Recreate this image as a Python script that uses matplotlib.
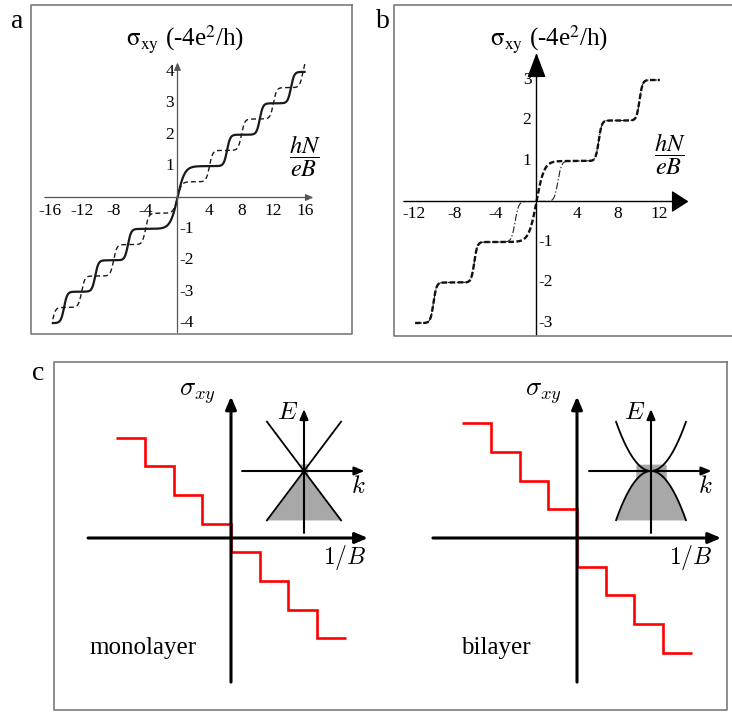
import numpy as np
import matplotlib.pyplot as plt
from matplotlib.lines import Line2D

W, H = 732, 712
plt.rcParams['font.family'] = ['Liberation Serif', 'DejaVu Serif']
plt.rcParams['lines.scale_dashes'] = False

# panel a: plateau levels and positions of the steps between them
a_solid_levels = [-4, -3, -2, -1, 1, 2, 3, 4]
a_solid_steps = [-14.2, -10.3, -6.2, 0.0, 6.2, 10.3, 14.2]
a_solid_widths = [0.4, 0.4, 0.4, 0.9, 0.4, 0.4, 0.4]
a_dash_levels = [-4.5, -3.5, -2.5, -1.5, -0.5, 0.5, 1.5, 2.5, 3.5, 4.5]
a_dash_steps = [-15.7, -12, -8, -4, 0, 4, 8, 12, 15.7]
a_dash_widths = [0.4, 0.4, 0.4, 0.4, 0.5, 0.4, 0.4, 0.4, 0.4]
a_xticks = [-16, -12, -8, -4, 4, 8, 12, 16]
a_yticks = [-4, -3, -2, -1, 1, 2, 3, 4]

# panel b
b_dash_levels = [-3, -2, -1, 1, 2, 3]
b_dash_steps = [-10.1, -6.1, 0.0, 6.1, 10.1]
b_dash_widths = [0.3, 0.3, 0.75, 0.3, 0.3]
b_dot_levels = [-3, -2, -1, 0, 1, 2, 3]
b_dot_steps = [-10.1, -6.1, -2.1, 2.1, 6.1, 10.1]
b_dot_widths = [0.3, 0.3, 0.35, 0.35, 0.3, 0.3]
b_xticks = [-12, -8, -4, 4, 8, 12]
b_yticks = [-3, -2, -1, 1, 2, 3]

# panel c: quantised Hall plateaus vs 1/B
c_edges = [-4, -3, -2, -1, 0, 1, 2, 3, 4]
mono_levels = [3.5, 2.5, 1.5, 0.5, -0.5, -1.5, -2.5, -3.5]
bi_levels = [4, 3, 2, 1, -1, -2, -3, -4]

fig = plt.figure(figsize=(W / 100, H / 100), dpi=100)


def fx(x):
    return x / W


def fy(y):
    return 1 - y / H


def data_axes(ox, oy, sx, sy, xlim, ylim):
    # axes placed so that data (0,0) sits at pixel (ox, oy)
    x0 = ox + xlim[0] * sx
    x1 = ox + xlim[1] * sx
    y0 = oy - ylim[1] * sy
    y1 = oy - ylim[0] * sy
    ax = fig.add_axes([fx(x0), fy(y1), (x1 - x0) / W, (y1 - y0) / H])
    ax.set_xlim(xlim)
    ax.set_ylim(ylim)
    ax.axis('off')
    return ax


def staircase(x, levels, steps, widths):
    y = np.full_like(x, levels[0], dtype=float)
    for i, (c, w) in enumerate(zip(steps, widths)):
        y += (levels[i + 1] - levels[i]) * 0.5 * (1 + np.tanh((x - c) / w))
    return y


def arrow(ax, start, end, color, lw, hl, hw):
    ax.annotate('', xy=end, xytext=start, annotation_clip=False,
                arrowprops=dict(arrowstyle=f'-|>,head_length={hl},head_width={hw}',
                                color=color, lw=lw, shrinkA=0, shrinkB=0))


def box(x0, y0, x1, y1, right=True):
    xs = [x1, x0, x0, x1] if not right else [x1, x0, x0, x1, x1]
    ys = [y0, y0, y1, y1] if not right else [y0, y0, y1, y1, y0]
    fig.add_artist(Line2D([fx(v) for v in xs], [fy(v) for v in ys],
                          transform=fig.transFigure, color='#7a7a7a', lw=1.2))


TICK = 12.5
TITLE = r'$\mathrm{\sigma_{xy}}$ (-4e$^2$/h)'
FRAC = r'$\dfrac{hN}{eB}$'

# ---------------- panel a ----------------
box(31, 5, 352, 334)
fig.text(fx(17), fy(22), 'a', fontsize=20, ha='center', va='center')
fig.text(fx(185), fy(40), TITLE, fontsize=18, ha='center', va='center',
         math_fontfamily='stix')
fig.text(fx(305), fy(156), FRAC, fontsize=17.5, ha='center', va='center',
         math_fontfamily='stix')

axa = data_axes(177.5, 197.5, 7.99, 31.4, (-18, 20), (-4.5, 4.7))
arrow(axa, (-16.6, 0), (17.0, 0), '#555555', 0.9, 0.45, 0.2)
arrow(axa, (0, -4.3), (0, 4.3), '#555555', 0.9, 0.45, 0.2)
xs = np.linspace(-15.6, 15.9, 900)
axa.plot(xs, staircase(xs, a_solid_levels, a_solid_steps, a_solid_widths),
         color='#1a1a1a', lw=1.6)
xd = np.linspace(-15.6, 16.0, 900)
axa.plot(xd, staircase(xd, a_dash_levels, a_dash_steps, a_dash_widths),
         color='#1a1a1a', lw=1.0, dashes=(3.5, 2.2))
for v in a_xticks:
    axa.text(v, -0.42, str(v), fontsize=TICK, ha='center', va='center')
for v in a_yticks:
    if v > 0:
        axa.text(-0.45, v, str(v), fontsize=TICK, ha='right', va='center')
    else:
        axa.text(0.2, v, str(v), fontsize=TICK, ha='left', va='center')

# ---------------- panel b ----------------
box(394, 5, 732, 336, right=False)
fig.text(fx(383), fy(22), 'b', fontsize=20, ha='center', va='center')
fig.text(fx(549), fy(40), TITLE, fontsize=18, ha='center', va='center',
         math_fontfamily='stix')
fig.text(fx(670), fy(154), FRAC, fontsize=17.5, ha='center', va='center',
         math_fontfamily='stix')

axb = data_axes(536.5, 201.5, 10.2, 40.5, (-14, 16), (-3.5, 4.2))
arrow(axb, (-13.0, 0), (14.9, 0), '#000000', 1.0, 1.05, 0.68)
arrow(axb, (0, -3.3), (0, 3.67), '#000000', 1.0, 1.55, 0.58)
xb = np.linspace(-11.9, 12.1, 900)
axb.plot(xb, staircase(xb, b_dot_levels, b_dot_steps, b_dot_widths),
         color='#222222', lw=0.8, dashes=(5, 1.5, 1, 1.5))
axb.plot(xb, staircase(xb, b_dash_levels, b_dash_steps, b_dash_widths),
         color='#111111', lw=1.7, dashes=(4, 1.8))
for v in b_xticks:
    axb.text(v, -0.3, str(v), fontsize=TICK, ha='center', va='center')
for v in b_yticks:
    if v > 0:
        axb.text(-0.5, v, str(v), fontsize=TICK, ha='right', va='center')
    else:
        axb.text(0.15, v, str(v), fontsize=TICK, ha='left', va='center')

# ---------------- panel c ----------------
box(54, 362, 727, 710)
fig.text(fx(38), fy(373), 'c', fontsize=20, ha='center', va='center')


def hall_panel(ox, levels, name, name_x, x_left, x_right):
    ax = data_axes(ox, 538, 28.7, 28.7, (-6, 6), (-6, 6))
    arrow(ax, (x_left, 0), (x_right, 0), 'black', 2.2, 0.75, 0.32)
    arrow(ax, (0, -5.02), (0, 4.93), 'black', 2.2, 0.75, 0.32)
    ax.stairs(levels, c_edges, baseline=None, color='red', lw=1.9)
    fig.text(fx(ox - 34), fy(394), r'$\sigma_{xy}$', fontsize=19, ha='center',
             va='center', math_fontfamily='cm')
    fig.text(fx(ox + 114), fy(558), r'$1/B$', fontsize=17, ha='center',
             va='center', math_fontfamily='cm')
    fig.text(fx(name_x), fy(648), name, fontsize=18, ha='center', va='center')
    return ax


hall_panel(231, mono_levels, 'monolayer', 143, -4.98, 4.77)
hall_panel(577, bi_levels, 'bilayer', 496, -5.02, 5.02)


def band_inset(cx, kind):
    ax = data_axes(cx, 471, 36, 36, (-2, 2), (-2, 2))
    if kind == 'mono':
        k = np.linspace(-1.03, 1.03, 300)
        lower = -1.33 * np.abs(k)
        fill_top = np.where(np.abs(k) < 0.1, 0.2, lower)
        ax.fill_between(k, -1.36, fill_top, color='#a8a8a8', lw=0)
        ax.plot(k, 1.33 * k, color='black', lw=1.3)
        ax.plot(k, -1.33 * k, color='black', lw=1.3)
    else:
        k = np.linspace(-0.97, 0.97, 300)
        lower = -1.45 * k ** 2
        fill_top = np.where(np.abs(k) < 0.42, 0.19, lower)
        ax.fill_between(k, -1.36, fill_top, color='#a8a8a8', lw=0)
        ax.plot(k, 1.45 * k ** 2, color='black', lw=1.3)
        ax.plot(k, lower, color='black', lw=1.3)
    arrow(ax, (-1.72, 0), (1.68, 0), 'black', 1.5, 0.6, 0.25)
    arrow(ax, (0, -1.72), (0, 1.72), 'black', 1.5, 0.6, 0.25)
    ax.text(-0.45, 1.6, r'$E$', fontsize=18, ha='center', va='center',
            math_fontfamily='cm')
    ax.text(1.5, -0.45, r'$k$', fontsize=18, ha='center', va='center',
            math_fontfamily='cm')


band_inset(304, 'mono')
band_inset(651, 'bi')

fig.savefig('out.png', dpi=100)
